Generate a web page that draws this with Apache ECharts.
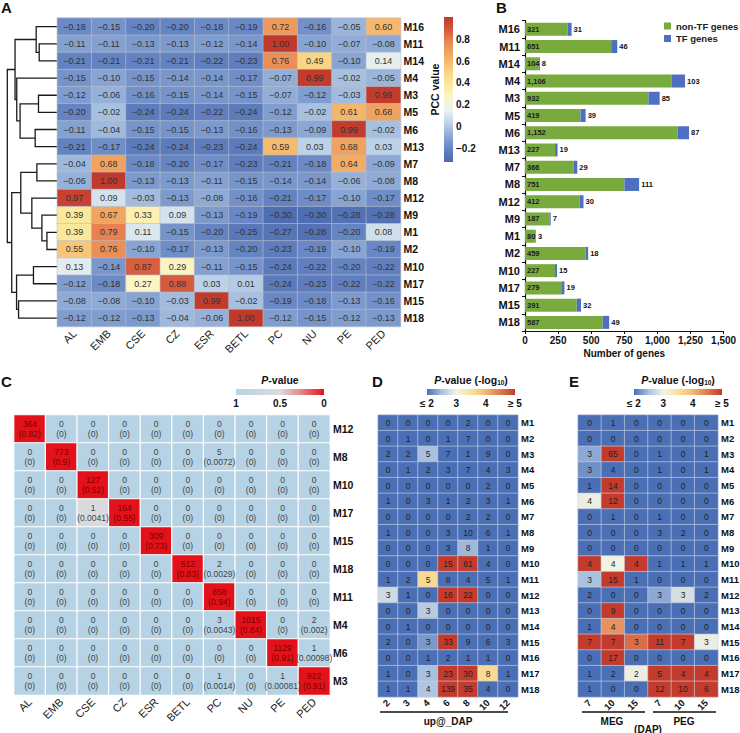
<!DOCTYPE html>
<html><head><meta charset="utf-8">
<script src="https://cdn.jsdelivr.net/npm/echarts@6/dist/echarts.min.js"></script>
<style>html,body{margin:0;padding:0;background:#fff}#c{width:740px;height:733px}</style>
</head><body><div id="c"></div>
<script>
// ---------------- DATA ----------------
const tissues = ['AL','EMB','CSE','CZ','ESR','BETL','PC','NU','PE','PED'];
const modulesA = ['M16','M11','M14','M4','M3','M5','M6','M13','M7','M8','M12','M9','M1','M2','M10','M17','M15','M18'];
const pcc = [
 [-0.18,-0.15,-0.20,-0.20,-0.18,-0.19,0.72,-0.16,-0.05,0.60],
 [-0.11,-0.11,-0.13,-0.13,-0.12,-0.14,1.00,-0.10,-0.07,-0.08],
 [-0.21,-0.21,-0.21,-0.21,-0.22,-0.23,0.76,0.49,-0.10,0.14],
 [-0.15,-0.10,-0.15,-0.14,-0.14,-0.17,-0.07,0.99,-0.02,-0.05],
 [-0.12,-0.06,-0.16,-0.15,-0.14,-0.15,-0.07,-0.12,-0.03,0.99],
 [-0.20,-0.02,-0.24,-0.24,-0.22,-0.24,-0.12,-0.02,0.61,0.68],
 [-0.11,-0.04,-0.15,-0.15,-0.13,-0.16,-0.13,-0.09,0.99,-0.02],
 [-0.21,-0.17,-0.24,-0.24,-0.23,-0.24,0.59,0.03,0.68,0.03],
 [-0.04,0.68,-0.18,-0.20,-0.17,-0.23,-0.21,-0.18,0.64,-0.09],
 [-0.06,1.00,-0.13,-0.13,-0.11,-0.15,-0.14,-0.14,-0.06,-0.08],
 [0.97,0.09,-0.03,-0.13,-0.08,-0.16,-0.21,-0.17,-0.10,-0.17],
 [0.39,0.67,0.33,0.09,-0.13,-0.19,-0.30,-0.30,-0.28,-0.28],
 [0.39,0.79,0.11,-0.15,-0.20,-0.25,-0.27,-0.28,-0.20,0.08],
 [0.55,0.76,-0.10,-0.17,-0.13,-0.20,-0.23,-0.19,-0.10,-0.19],
 [0.13,-0.14,0.87,0.29,-0.11,-0.15,-0.24,-0.22,-0.20,-0.22],
 [-0.12,-0.18,0.27,0.88,0.03,0.01,-0.24,-0.23,-0.22,-0.22],
 [-0.08,-0.08,-0.10,-0.03,0.99,-0.02,-0.19,-0.18,-0.13,-0.16],
 [-0.12,-0.12,-0.13,-0.04,-0.06,1.00,-0.12,-0.15,-0.12,-0.13]
];
// dendrogram linkage: [childA, childB, height]; leaves 0..17 are rows of modulesA
const dendroLinkage = [
 [1,2,18],[0,18,21],[4,5,18.7],[6,7,22],[20,21,37],[3,22,40.3],[19,23,42],
 [8,9,20.3],[12,13,10.3],[11,26,15.3],[10,27,25.3],[25,28,36.3],
 [14,15,23.7],[16,17,38.5],[30,31,40.5],[29,32,45.3],[24,33,49.7]
];
const pccTicks = [-0.2,0,0.2,0.4,0.6,0.8];

const nonTF = [321,651,104,1106,932,419,1152,227,366,751,412,187,80,459,227,279,391,587];
const tfGenes = [31,46,8,103,85,39,87,19,29,111,30,7,3,18,15,19,32,49];

const modulesC = ['M12','M8','M10','M17','M15','M18','M11','M4','M6','M3'];
const cCount = [
 [364,0,0,0,0,0,0,0,0,0],
 [0,773,0,0,0,0,5,0,0,0],
 [0,0,127,0,0,0,0,0,0,0],
 [0,0,1,164,0,0,0,0,0,0],
 [0,0,0,0,309,0,0,0,0,0],
 [0,0,0,0,0,512,2,0,0,0],
 [0,0,0,0,0,0,658,0,0,0],
 [0,0,0,0,0,0,3,1015,0,2],
 [0,0,0,0,0,0,0,0,1129,1],
 [0,0,0,0,0,0,1,0,1,922]
];
const cFrac = [
 [0.82,0,0,0,0,0,0,0,0,0],
 [0,0.9,0,0,0,0,0.0072,0,0,0],
 [0,0,0.52,0,0,0,0,0,0,0],
 [0,0,0.0041,0.55,0,0,0,0,0,0],
 [0,0,0,0,0.73,0,0,0,0,0],
 [0,0,0,0,0,0.83,0.0029,0,0,0],
 [0,0,0,0,0,0,0.94,0,0,0],
 [0,0,0,0,0,0,0.0043,0.84,0,0.002],
 [0,0,0,0,0,0,0,0,0.91,0.00098],
 [0,0,0,0,0,0,0.0014,0,0.00081,0.91]
];
const cPval = [
 [0,1,1,1,1,1,1,1,1,1],
 [1,0,1,1,1,1,1,1,1,1],
 [1,1,0,1,1,1,1,1,1,1],
 [1,1,0.55,0,1,1,1,1,1,1],
 [1,1,1,1,0,1,1,1,1,1],
 [1,1,1,1,1,0,1,1,1,1],
 [1,1,1,1,1,1,0,1,1,1],
 [1,1,1,1,1,1,1,0,1,1],
 [1,1,1,1,1,1,1,1,0,1],
 [1,1,1,1,1,1,1,1,1,0]
];
const cLegendTicks = [1,0.5,0];

const modulesDE = ['M1','M2','M3','M4','M5','M6','M7','M8','M9','M10','M11','M12','M13','M14','M15','M16','M17','M18'];
const dapUp = ['2','3','4','6','8','10','12'];
const dCount = [
 [0,0,0,0,2,0,0],[0,1,0,1,7,0,0],[2,2,5,7,1,9,0],[0,1,2,3,7,4,3],[0,0,0,0,0,2,0],
 [1,0,3,1,2,3,1],[0,0,0,0,2,2,0],[1,0,0,3,10,6,1],[0,0,0,3,8,1,0],[0,0,0,15,61,4,0],
 [1,2,5,8,4,5,1],[3,1,0,16,22,0,0],[0,0,3,0,0,0,0],[0,1,0,0,0,0,0],[2,0,3,33,9,6,3],
 [0,0,1,2,1,1,0],[1,0,3,23,30,8,1],[1,1,4,139,35,4,0]
];
const dLogP = [
 [2,2,2,2,2,2,2],[2,2,2,2,2,2,2],[2,2,2.5,2,2,2,2],[2,2,2,2,2,2,2],[2,2,2,2,2,2,2],
 [2,2,2,2,2,2,2],[2,2,2,2,2,2,2],[2,2,2,2,2,2,2],[2,2,2,2,2.45,2,2],[2,2,2,5,5,2,2],
 [2,2,3.6,2,2,2,2],[2.75,2,2,5,5,2,2],[2,2,2.6,2,2,2,2],[2,2,2,2,2,2,2],[2,2,2.25,5,2,2,2],
 [2,2,2,2,2,2,2],[2,2,2.5,5,5,3.6,2],[2,2,2.55,5,5,2,2]
];
const dapImprint = ['7','10','15','7','10','15'];
const eCount = [
 [0,1,0,0,0,0],[0,0,0,0,0,0],[3,65,0,1,0,1],[3,4,0,1,0,1],[1,14,0,0,0,0],
 [4,12,0,0,0,0],[0,1,0,1,0,0],[0,0,0,3,2,0],[0,0,0,0,0,0],[4,4,4,1,1,1],
 [3,15,1,0,0,0],[2,0,0,3,3,2],[0,9,0,0,0,0],[1,4,0,0,0,0],[7,7,3,11,7,3],
 [0,17,0,0,0,0],[1,2,2,5,4,4],[1,0,0,12,10,6]
];
const eLogP = [
 [2,2,2,2,2,2],[2,2,2,2,2,2],[2.35,5,2,2,2,2],[2.2,2,2,2,2,2],[2,5,2,2,2,2],
 [2.95,5,2,2,2,2],[2,2,2,2,2,2],[2,2,2,2,2,2],[2,2,2,2,2,2],[5,3.0,5,2,2,2],
 [2.5,5,2,2,2,2],[2,2,2,2.35,2.8,2],[2,5,2,2,2,2],[2,4.3,2,2,2,2],[5,5,4.6,5,5,2.95],
 [2,5,2,2,2,2],[2,2,2.95,5,5,5],[2,2,2,5,5,5]
];
const logPTicks = [2,3,4,5];

// ---------------- STYLE ----------------
const FONT = '"Liberation Sans", Arial, Helvetica, sans-serif';
const pccColors = ['#4b68ad','#6584c2','#8eaad5','#c0d6ea','#eef3f0','#fbf5c3','#fae79a','#f8cf7e','#f3ac66','#eb8f57','#d65a3d','#c0392b'];
const cColors = ['#e3121a','#e58383','#dcdcdc','#c8d8e2','#b5d3e5']; // p = 0 .. 1
const dColors = ['#4a6fb5','#a9c1df','#f3f3e4','#f9e39c','#f3b774','#e07a50','#c23b2d']; // 2 .. 5

const G = {
 dendro:{left:7,top:18.1,width:50.3,height:308.5},
 heatA:{left:57.3,top:18.1,width:343.3,height:308.5},
 barA:{left:444,top:17.1,width:9,height:144.9},
 barB:{left:525,top:20.7,width:198.6,height:310.3},
 heatC:{left:14,top:415,width:316,height:280},
 legC:{left:236,top:389,width:88,height:6},
 heatD:{left:378,top:415,width:140,height:282},
 legD:{left:427,top:389,width:88,height:6},
 heatE:{left:578,top:415,width:140,height:282},
 legE:{left:634,top:389,width:88,height:6}
};
const gridOrder = ['dendro','heatA','barA','barB','heatC','legC','heatD','legD','heatE','legE'];

// ---------------- BUILD ----------------
const n = modulesA.length;
const pos = [], hgt = [], dendroSegs = [];
for (let i = 0; i < n; i++) { pos[i] = i; hgt[i] = 0; }
dendroLinkage.forEach(([a,b,h],k) => {
  const id = n + k; pos[id] = (pos[a] + pos[b]) / 2; hgt[id] = h;
  dendroSegs.push([h, pos[a], pos[b], hgt[a], hgt[b]]);
});

const heatAData = [];
pcc.forEach((row,y) => row.forEach((v,x) => heatAData.push([x,y,v])));
const heatCData = [];
cCount.forEach((row,y) => row.forEach((c,x) => {
  const p = cPval[y][x];
  const item = {value:[x,y,p,c,cFrac[y][x]]};
  if (p < 0.3) item.label = {color:'#7d0000'};
  heatCData.push(item);
}));
const heatDData = [];
dCount.forEach((row,y) => row.forEach((c,x) => heatDData.push([x,y,dLogP[y][x],c])));
const heatEData = [];
eCount.forEach((row,y) => row.forEach((c,x) => heatEData.push([x,y,eLogP[y][x],c])));

const fmtPcc = v => (v < 0 ? '\u2212' : '') + Math.abs(v).toFixed(2);
const stops = (cols) => cols.map((c,i) => ({offset:i/(cols.length-1), color:c}));

function gradRect(x0,y0,x1,y1,cols){
  return function(params){
    const cs = params.coordSys;
    return {type:'rect', shape:{x:cs.x,y:cs.y,width:cs.width,height:cs.height},
      style:{fill:new echarts.graphic.LinearGradient(x0,y0,x1,y1,stops(cols))}};
  };
}

const hiddenVal = (gi, extra) => Object.assign({type:'value', gridIndex:gi, show:false, splitLine:{show:false}}, extra||{});
const catLabelX = (gi, data, extra) => Object.assign({
  type:'category', gridIndex:gi, data:data, axisLine:{show:false}, axisTick:{show:false},
  splitLine:{show:false}, axisLabel:{rotate:45, fontSize:11, color:'#222', margin:5, interval:0}
}, extra||{});
const catLabelY = (gi, data, fs) => ({
  type:'category', gridIndex:gi, data:data, inverse:true, position:'right',
  axisLine:{show:false}, axisTick:{show:false}, splitLine:{show:false},
  axisLabel:{fontSize:fs, fontWeight:'bold', color:'#111', margin:3, interval:0}
});
const legendX = (gi, min, max, ticks, fmt, inverse) => ({
  type:'value', gridIndex:gi, min:min, max:max, inverse:!!inverse,
  axisLine:{show:false}, axisTick:{show:false}, splitLine:{show:false},
  axisLabel:{customValues:ticks, formatter:fmt, fontSize:10, fontWeight:'bold', color:'#111', margin:3}
});

const titleRich = {
  i:{fontStyle:'italic', fontWeight:'bold', fontSize:10.5, color:'#111', fontFamily:FONT},
  b:{fontWeight:'bold', fontSize:10.5, color:'#111', fontFamily:FONT},
  s:{fontWeight:'bold', fontSize:6.5, color:'#111', verticalAlign:'bottom', padding:[5,0,0,0], fontFamily:FONT}
};
const letter = (t,l,tp) => ({text:t, left:l, top:tp, padding:0, textStyle:{fontSize:15, fontWeight:'bold', color:'#111', fontFamily:FONT}});
const legTitle = (t,l) => ({text:t, left:l, top:374, padding:0, textAlign:'center', textStyle:{fontSize:10.5, fontWeight:'bold', color:'#111', rich:titleRich}});

const option = {
  animation:false,
  textStyle:{fontFamily:FONT},
  title:[
    letter('A',1,0), letter('B',496,0), letter('C',1,374), letter('D',372,374), letter('E',569,374),
    legTitle('{i|P}{b|-value}',280),
    legTitle('{i|P}{b|-value (-log}{s|10}{b|)}',471),
    legTitle('{i|P}{b|-value (-log}{s|10}{b|)}',678)
  ],
  grid: gridOrder.map(k => Object.assign({containLabel:false, outerBoundsMode:'none'}, G[k])),
  legend:{data:['non-TF genes','TF genes'], orient:'vertical', left:664, top:21, padding:0,
    itemWidth:7, itemHeight:7, itemGap:2.5, icon:'rect', selectedMode:false,
    textStyle:{fontSize:9.5, fontWeight:'bold', color:'#222'}},
  xAxis:[
    hiddenVal(0,{min:0,max:50,inverse:true}),
    catLabelX(1,tissues),
    hiddenVal(2,{min:0,max:1}),
    {type:'value', gridIndex:3, min:0, max:1500, interval:250, splitLine:{show:false},
      axisLine:{show:true, lineStyle:{color:'#111', width:1.2}},
      axisTick:{show:true, length:3, lineStyle:{color:'#111'}},
      axisLabel:{fontSize:10, fontWeight:'bold', color:'#111', margin:4, formatter:v => v.toLocaleString('en-US')},
      name:'Number of genes', nameLocation:'middle', nameGap:17,
      nameTextStyle:{fontSize:10, fontWeight:'bold', color:'#111'}},
    catLabelX(4,tissues),
    legendX(5,0,1,cLegendTicks,v => String(v),true),
    catLabelX(6,dapUp,{axisLabel:{rotate:45, fontSize:9.5, fontWeight:'bold', color:'#111', margin:4, interval:0},
      name:'up@_DAP', nameLocation:'middle', nameGap:19, nameTextStyle:{fontSize:10, fontWeight:'bold', color:'#111'}}),
    legendX(7,2,5,logPTicks,v => v===2?'\u2264 2':(v===5?'\u2265 5':String(v))),
    catLabelX(8,dapImprint.map((d,i) => String(i)),{axisLabel:{rotate:45, fontSize:9.5, fontWeight:'bold', color:'#111', margin:4, interval:0, formatter:(v,i) => dapImprint[i]}}),
    legendX(9,2,5,logPTicks,v => v===2?'\u2264 2':(v===5?'\u2265 5':String(v)))
  ],
  yAxis:[
    hiddenVal(0,{min:-0.5,max:n-0.5,inverse:true}),
    catLabelY(1,modulesA,10.5),
    {type:'value', gridIndex:2, min:-0.32, max:1.0, position:'right', splitLine:{show:false},
      axisLine:{show:false}, axisTick:{show:false},
      axisLabel:{customValues:pccTicks, fontSize:10, fontWeight:'bold', color:'#111', margin:3,
        formatter:v => Math.abs(v)<1e-9 ? '0' : (v<0?'\u2212':'') + Math.abs(v).toFixed(1)}},
    {type:'value', gridIndex:2, min:-0.32, max:1.0, position:'left', splitLine:{show:false},
      axisLine:{show:false}, axisTick:{show:false}, axisLabel:{show:false},
      name:'PCC value', nameLocation:'middle', nameGap:4, nameRotate:90,
      nameTextStyle:{fontSize:10.5, fontWeight:'bold', color:'#111'}},
    {type:'category', gridIndex:3, data:modulesA, inverse:true,
      axisLine:{show:true, lineStyle:{color:'#111', width:1.2}},
      axisTick:{show:true, length:3, lineStyle:{color:'#111'}},
      axisLabel:{fontSize:11, fontWeight:'bold', color:'#111', margin:5, interval:0}},
    catLabelY(4,modulesC,10.5),
    hiddenVal(5,{min:0,max:1}),
    catLabelY(6,modulesDE,9.5),
    hiddenVal(7,{min:0,max:1}),
    catLabelY(8,modulesDE,9.5),
    hiddenVal(9,{min:0,max:1})
  ],
  visualMap:[
    {type:'continuous', show:false, seriesIndex:1, dimension:2, min:-0.32, max:1.0, inRange:{color:pccColors}},
    {type:'continuous', show:false, seriesIndex:5, dimension:2, min:0, max:1, inRange:{color:cColors}},
    {type:'continuous', show:false, seriesIndex:7, dimension:2, min:2, max:5, inRange:{color:dColors}},
    {type:'continuous', show:false, seriesIndex:9, dimension:2, min:2, max:5, inRange:{color:dColors}}
  ],
  series:[
    {type:'custom', xAxisIndex:0, yAxisIndex:0, silent:true, data:dendroSegs, encode:{x:0,y:1},
      renderItem:(params,api) => {
        const a1 = api.coord([api.value(3), api.value(1)]);
        const a2 = api.coord([api.value(0), api.value(1)]);
        const b2 = api.coord([api.value(0), api.value(2)]);
        const b1 = api.coord([api.value(4), api.value(2)]);
        return {type:'polyline', shape:{points:[a1,a2,b2,b1]}, style:{stroke:'#1a1a1a', lineWidth:1.3, fill:null}};
      }},
    {type:'heatmap', xAxisIndex:1, yAxisIndex:1, data:heatAData, silent:true,
      itemStyle:{borderColor:'#b8c0cc', borderWidth:0.6},
      label:{show:true, fontSize:9, color:'#333', formatter:p => fmtPcc(p.value[2])},
      emphasis:{disabled:true}},
    {type:'custom', xAxisIndex:2, yAxisIndex:2, silent:true, data:[[0.5,0.5]],
      renderItem:gradRect(0,1,0,0,pccColors)},
    {type:'bar', name:'non-TF genes', xAxisIndex:3, yAxisIndex:4, stack:'g', data:nonTF, barWidth:13, silent:true,
      itemStyle:{color:'#79aa3d'},
      label:{show:true, position:'insideLeft', distance:2, fontSize:7.5, fontWeight:'bold', color:'#1b1b1b',
        formatter:p => p.value.toLocaleString('en-US')}},
    {type:'bar', name:'TF genes', xAxisIndex:3, yAxisIndex:4, stack:'g', data:tfGenes, barWidth:13, silent:true,
      itemStyle:{color:'#4f70c2'},
      label:{show:true, position:'right', distance:2, fontSize:7.5, fontWeight:'bold', color:'#111'}},
    {type:'heatmap', xAxisIndex:4, yAxisIndex:5, data:heatCData, silent:true,
      itemStyle:{borderColor:'#ffffff', borderWidth:1.2},
      label:{show:true, fontSize:8.5, lineHeight:10, color:'#444', formatter:p => p.value[3] + '\n(' + p.value[4] + ')'},
      emphasis:{disabled:true}},
    {type:'custom', xAxisIndex:5, yAxisIndex:6, silent:true, data:[[0.5,0.5]],
      renderItem:gradRect(1,0,0,0,cColors)},
    {type:'heatmap', xAxisIndex:6, yAxisIndex:7, data:heatDData, silent:true,
      itemStyle:{borderColor:'#c9d3e6', borderWidth:0.6},
      label:{show:true, fontSize:8.5, color:'#222', formatter:p => p.value[3]},
      emphasis:{disabled:true}},
    {type:'custom', xAxisIndex:7, yAxisIndex:8, silent:true, data:[[0.5,0.5]],
      renderItem:gradRect(0,0,1,0,dColors)},
    {type:'heatmap', xAxisIndex:8, yAxisIndex:9, data:heatEData, silent:true,
      itemStyle:{borderColor:'#c9d3e6', borderWidth:0.6},
      label:{show:true, fontSize:8.5, color:'#222', formatter:p => p.value[3]},
      emphasis:{disabled:true}},
    {type:'custom', xAxisIndex:9, yAxisIndex:10, silent:true, data:[[0.5,0.5]],
      renderItem:gradRect(0,0,1,0,dColors)}
  ],
  graphic:[
    {type:'line', shape:{x1:380,y1:712,x2:508,y2:712}, style:{stroke:'#111', lineWidth:1.5}},
    {type:'line', shape:{x1:582,y1:712,x2:645,y2:712}, style:{stroke:'#111', lineWidth:1.5}},
    {type:'line', shape:{x1:653,y1:712,x2:716,y2:712}, style:{stroke:'#111', lineWidth:1.5}},
    {type:'text', x:612, y:721, style:{text:'MEG', fontSize:10, fontWeight:'bold', fill:'#111', align:'center', verticalAlign:'middle', fontFamily:FONT}},
    {type:'text', x:684, y:721, style:{text:'PEG', fontSize:10, fontWeight:'bold', fill:'#111', align:'center', verticalAlign:'middle', fontFamily:FONT}},
    {type:'text', x:648, y:729, style:{text:'(DAP)', fontSize:10, fontWeight:'bold', fill:'#111', align:'center', verticalAlign:'middle', fontFamily:FONT}}
  ]
};

const chart = echarts.init(document.getElementById('c'), null, {renderer:'svg'});
chart.setOption(option);
</script>
</body></html>
